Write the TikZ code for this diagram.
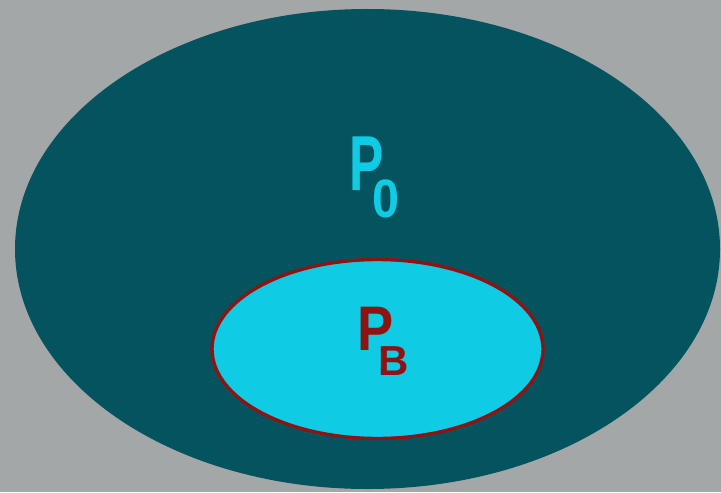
\documentclass[tikz,border=0pt]{standalone}
\usepackage{fontspec}
\setmainfont{Liberation Sans}
\usepackage{graphicx}
\usepackage{tikz}
\usetikzlibrary{positioning}
\definecolor{bggrey}{RGB}{164,167,168}
\definecolor{myteal}{RGB}{4,84,96}
\definecolor{mycyan}{RGB}{15,203,228}
\definecolor{myred}{RGB}{142,20,20}
\tikzset{
  outerset/.style={fill=myteal},
  innerset/.style={fill=mycyan, draw=myred, line width=1.7pt},
  setlabel/.style={anchor=base west, inner sep=0pt}
}

\begin{document}
\begin{tikzpicture}[x=0.5pt, y=-0.5pt]
  % background and page size
  \fill[bggrey] (0,0) rectangle (721,492);
  \useasboundingbox (0,0) rectangle (721,492);

  % the two sets
  \fill[outerset] (367.5,249) ellipse [x radius=352.5, y radius=240];
  \filldraw[innerset] (377.5,349) ellipse [x radius=165.5, y radius=89.5];

  % labels
  \node[setlabel, text=mycyan, font=\bfseries\fontsize{39}{39}\selectfont] (p0) at (349,190)
    {\scalebox{0.66}[1]{P}\kern-5.5pt\raisebox{-13.5pt}{\fontsize{27}{27}\selectfont\scalebox{0.9}[1]{0}}};
  \node[setlabel, text=myred, font=\bfseries\fontsize{31.5}{31.5}\selectfont] (pb) at (357.4,350)
    {\scalebox{0.86}[1]{P}\kern-7.8pt\raisebox{-12.5pt}{\fontsize{21}{21}\selectfont B}};
\end{tikzpicture}
\end{document}
